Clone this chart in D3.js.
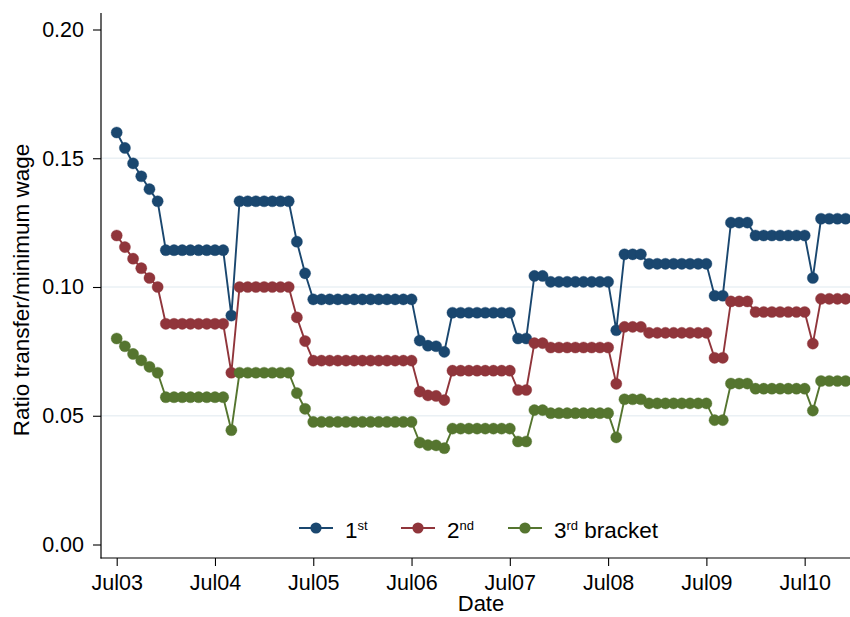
<!DOCTYPE html>
<html><head><meta charset="utf-8">
<script src="https://cdn.jsdelivr.net/npm/d3@7"></script>
<style>
html,body{margin:0;padding:0;background:#fff;}
svg{display:block;font-family:"Liberation Sans",Arial,Helvetica,sans-serif;}
</style></head>
<body>
<svg id="chart" width="850" height="617"></svg>
<script>
const months = [
 "2003-07","2003-08","2003-09","2003-10","2003-11","2003-12",
 "2004-01","2004-02","2004-03","2004-04","2004-05","2004-06","2004-07","2004-08","2004-09","2004-10","2004-11","2004-12",
 "2005-01","2005-02","2005-03","2005-04","2005-05","2005-06","2005-07","2005-08","2005-09","2005-10","2005-11","2005-12",
 "2006-01","2006-02","2006-03","2006-04","2006-05","2006-06","2006-07","2006-08","2006-09","2006-10","2006-11","2006-12",
 "2007-01","2007-02","2007-03","2007-04","2007-05","2007-06","2007-07","2007-08","2007-09","2007-10","2007-11","2007-12",
 "2008-01","2008-02","2008-03","2008-04","2008-05","2008-06","2008-07","2008-08","2008-09","2008-10","2008-11","2008-12",
 "2009-01","2009-02","2009-03","2009-04","2009-05","2009-06","2009-07","2009-08","2009-09","2009-10","2009-11","2009-12",
 "2010-01","2010-02","2010-03","2010-04","2010-05","2010-06","2010-07","2010-08","2010-09","2010-10","2010-11","2010-12"
];
const bracket1 = [
 0.160,0.154,0.148,0.143,0.138,0.1333,
 0.1143,0.1143,0.1143,0.1143,0.1143,0.1143,0.1143,0.1143,
 0.0889,
 0.1333,0.1333,0.1333,0.1333,0.1333,0.1333,0.1333,
 0.1176,0.1053,
 0.0952,0.0952,0.0952,0.0952,0.0952,0.0952,0.0952,0.0952,0.0952,0.0952,0.0952,0.0952,0.0952,
 0.0792,0.0772,0.0770,0.0748,
 0.0900,0.0900,0.0900,0.0900,0.0900,0.0900,0.0900,0.0900,
 0.0800,0.0800,
 0.1043,0.1043,
 0.1020,0.1020,0.1020,0.1020,0.1020,0.1020,0.1020,0.1020,
 0.0832,
 0.1127,0.1127,0.1127,
 0.1090,0.1090,0.1090,0.1090,0.1090,0.1090,0.1090,0.1090,
 0.0966,0.0966,
 0.1250,0.1250,0.1250,
 0.1200,0.1200,0.1200,0.1200,0.1200,0.1200,0.1200,
 0.1035,
 0.1265,0.1265,0.1265,0.1265
];
const bracket2 = [
 0.120,0.1155,0.111,0.1073,0.1035,0.1000,
 0.0857,0.0857,0.0857,0.0857,0.0857,0.0857,0.0857,0.0857,
 0.0667,
 0.1000,0.1000,0.1000,0.1000,0.1000,0.1000,0.1000,
 0.0882,0.0790,
 0.0714,0.0714,0.0714,0.0714,0.0714,0.0714,0.0714,0.0714,0.0714,0.0714,0.0714,0.0714,0.0714,
 0.0594,0.0579,0.0577,0.0561,
 0.0675,0.0675,0.0675,0.0675,0.0675,0.0675,0.0675,0.0675,
 0.0600,0.0600,
 0.0782,0.0782,
 0.0765,0.0765,0.0765,0.0765,0.0765,0.0765,0.0765,0.0765,
 0.0624,
 0.0845,0.0845,0.0845,
 0.0822,0.0822,0.0822,0.0822,0.0822,0.0822,0.0822,0.0822,
 0.0725,0.0725,
 0.0944,0.0944,0.0944,
 0.0903,0.0903,0.0903,0.0903,0.0903,0.0903,0.0903,
 0.0780,
 0.0954,0.0954,0.0954,0.0954
];
const bracket3 = [
 0.0800,0.0770,0.0740,0.0715,0.0690,0.0667,
 0.0572,0.0572,0.0572,0.0572,0.0572,0.0572,0.0572,0.0572,
 0.0444,
 0.0667,0.0667,0.0667,0.0667,0.0667,0.0667,0.0667,
 0.0588,0.0527,
 0.0476,0.0476,0.0476,0.0476,0.0476,0.0476,0.0476,0.0476,0.0476,0.0476,0.0476,0.0476,0.0476,
 0.0396,0.0386,0.0385,0.0374,
 0.0450,0.0450,0.0450,0.0450,0.0450,0.0450,0.0450,0.0450,
 0.0400,0.0400,
 0.0522,0.0522,
 0.0510,0.0510,0.0510,0.0510,0.0510,0.0510,0.0510,0.0510,
 0.0416,
 0.0564,0.0564,0.0564,
 0.0548,0.0548,0.0548,0.0548,0.0548,0.0548,0.0548,0.0548,
 0.0483,0.0483,
 0.0625,0.0625,0.0625,
 0.0605,0.0605,0.0605,0.0605,0.0605,0.0605,0.0605,
 0.0520,
 0.0635,0.0635,0.0635,0.0635
];
const xTickMonths = ["2003-07","2004-07","2005-07","2006-07","2007-07","2008-07","2009-07","2010-07"];
const xTickLabels = ["Jul03","Jul04","Jul05","Jul06","Jul07","Jul08","Jul09","Jul10"];
const yTicks = [0, 0.05, 0.10, 0.15, 0.20];
const yGrid = [0.05, 0.10, 0.15];
const seriesNames = ["1", "2", "3"];
const seriesSup = ["st", "nd", "rd"];
const seriesSuffix = ["", "", " bracket"];
const colors = ["#1a476f", "#90353b", "#55752f"];

const svg = d3.select("#chart");
svg.append("rect").attr("width",850).attr("height",617).attr("fill","#fff");

const axisX = 101, axisY = 558, axisTop = 13, plotRight = 850;
const idx = d => months.indexOf(d);
const x = d3.scaleLinear().domain([0, 84]).range([116.7, 116.7 + 84*8.19]);
const y = d3.scaleLinear().domain([0, 0.2]).range([544.5, 29.5]);

// grid
svg.append("g").selectAll("line").data(yGrid).join("line")
  .attr("x1", axisX).attr("x2", plotRight)
  .attr("y1", d => y(d)).attr("y2", d => y(d))
  .attr("stroke", "#eaf0f4").attr("stroke-width", 1.6);

// series
const allSeries = [bracket1, bracket2, bracket3];
allSeries.forEach((vals, s) => {
  const pts = vals.map((v, i) => ({i, v}));
  const line = d3.line().x(d => x(d.i)).y(d => y(d.v));
  svg.append("path").datum(pts).attr("d", line)
    .attr("fill", "none").attr("stroke", colors[s]).attr("stroke-width", 1.9);
  svg.append("g").selectAll("circle").data(pts).join("circle")
    .attr("cx", d => x(d.i)).attr("cy", d => y(d.v)).attr("r", 5.6)
    .attr("fill", colors[s]).attr("stroke", colors[s]).attr("stroke-opacity",0.6).attr("stroke-width", 0.6);
});

// y axis
const yAxis = d3.axisLeft(y).tickValues(yTicks).tickFormat(d3.format(".2f")).tickSize(8).tickPadding(9);
const gy = svg.append("g").attr("transform", `translate(${axisX},0)`).call(yAxis);
gy.select(".domain").remove();
gy.selectAll(".tick line").attr("stroke", "#000").attr("stroke-width", 1.1);
gy.selectAll(".tick text").attr("font-size", 21.5).attr("fill", "#000")
  .attr("font-family", "Liberation Sans, Arial, sans-serif");
svg.append("line").attr("x1", axisX).attr("x2", axisX).attr("y1", axisTop).attr("y2", axisY + 0.5)
  .attr("stroke", "#000").attr("stroke-width", 1.2);

// x axis
const xAxis = d3.axisBottom(x).tickValues(xTickMonths.map(idx))
  .tickFormat((d, i) => xTickLabels[i]).tickSize(8).tickPadding(9);
const gx = svg.append("g").attr("transform", `translate(0,${axisY})`).call(xAxis);
gx.select(".domain").remove();
gx.selectAll(".tick line").attr("stroke", "#000").attr("stroke-width", 1.1);
gx.selectAll(".tick text").attr("font-size", 21.5).attr("fill", "#000")
  .attr("font-family", "Liberation Sans, Arial, sans-serif");
svg.append("line").attr("x1", axisX - 0.5).attr("x2", plotRight).attr("y1", axisY).attr("y2", axisY)
  .attr("stroke", "#000").attr("stroke-width", 1.2);

// axis titles
svg.append("text").attr("x", 481).attr("y", 611).attr("text-anchor", "middle")
  .attr("font-size", 22).attr("fill", "#000").text("Date");
svg.append("text").attr("transform", "translate(29,290) rotate(-90)").attr("text-anchor", "middle")
  .attr("font-size", 22.5).attr("fill", "#000").text("Ratio transfer/minimum wage");

// legend
const legendX = [299, 401, 508];
const lg = svg.append("g");
legendX.forEach((lx, s) => {
  const g = lg.append("g").attr("transform", `translate(${lx},528)`);
  g.append("line").attr("x1", 0).attr("x2", 34).attr("stroke", colors[s]).attr("stroke-width", 1.9);
  g.append("circle").attr("cx", 17).attr("r", 5.6).attr("fill", colors[s]);
  const t = g.append("text").attr("x", 46).attr("y", 10).attr("font-size", 22.5).attr("fill", "#000");
  t.append("tspan").text(seriesNames[s]);
  t.append("tspan").attr("font-size", 13).attr("dy", -8).text(seriesSup[s]);
  if (seriesSuffix[s]) t.append("tspan").attr("dy", 8).text(seriesSuffix[s]);
});
</script>
</body></html>
